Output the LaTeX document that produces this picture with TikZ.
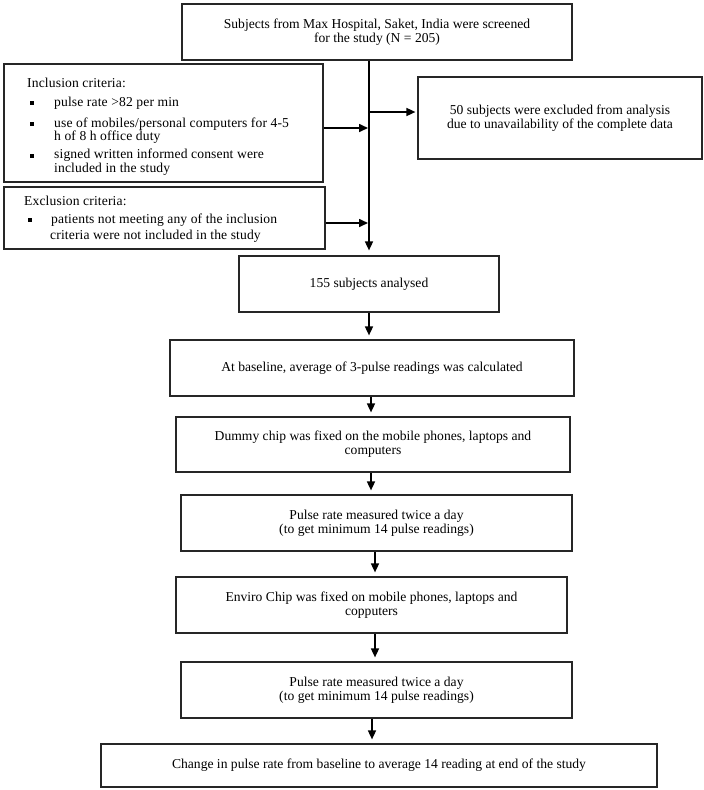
\documentclass[tikz,border=0pt]{standalone}
\usepackage{fontspec}
\setmainfont{Liberation Serif}
\newfontfamily\critfont[LetterSpace=1.0]{Liberation Serif}
\usetikzlibrary{arrows.meta}
\begin{document}
\begin{tikzpicture}[x=1pt,y=-1pt,
  box/.style={draw=black!85, line width=1.2pt, align=center, inner sep=0pt, font=\fontsize{13.6}{14}\selectfont},
  txt/.style={anchor=west, inner sep=0pt, align=left, font=\critfont\fontsize{13.6}{13}\selectfont},
  sq/.style={fill=black, inner sep=0pt, minimum size=3.5pt},
  arr/.style={line width=1.6pt, -{Triangle[length=9pt,width=8pt]}},
]
\useasboundingbox[fill=white] (0,0) rectangle (704,790);

\node[box, minimum width=390pt, minimum height=56pt] (top) at (377,32) {Subjects from Max Hospital, Saket, India were screened\\for the study (N = 205)};
\node[box, minimum width=319pt, minimum height=118pt] (incl) at (163.5,123) {};
\node[box, minimum width=321pt, minimum height=62pt] (excl) at (164.5,218) {};
\node[box, minimum width=284pt, minimum height=82pt] (rbox) at (560,118) {50 subjects were excluded from analysis\\due to unavailability of the complete data};
\node[box, minimum width=260pt, minimum height=56pt] (b155) at (369,284) {155 subjects analysed};
\node[box, minimum width=404pt, minimum height=56pt] (base) at (372,368) {At baseline, average of 3-pulse readings was calculated};
\node[box, minimum width=394pt, minimum height=55pt] (dummy) at (373,444.5) {Dummy chip was fixed on the mobile phones, laptops and\\computers};
\node[box, minimum width=391pt, minimum height=56pt] (pulse1) at (376.5,523) {Pulse rate measured twice a day\\(to get minimum 14 pulse readings)};
\node[box, minimum width=391pt, minimum height=56pt] (enviro) at (371.5,605) {Enviro Chip was fixed on mobile phones, laptops and\\copputers};
\node[box, minimum width=391pt, minimum height=56pt] (pulse2) at (376.5,690) {Pulse rate measured twice a day\\(to get minimum 14 pulse readings)};
\node[box, minimum width=556pt, minimum height=43pt] (final) at (379,765.5) {Change in pulse rate from baseline to average 14 reading at end of the study};

% inclusion criteria text
\node[txt] (inh) at (27,83) {Inclusion criteria:};
\node[sq] (ib1) at (32,103) {};
\node[txt] (i1) at (54,103) {pulse rate >82 per min};
\node[sq] (ib2) at (32,124) {};
\node[txt] (i2) at (54,130.5) {use of mobiles/personal computers for 4-5\\h of 8 h office duty};
\node[sq] (ib3) at (32,156) {};
\node[txt, font=\critfont\fontsize{13.6}{12}\selectfont] (i3) at (54,162) {signed written informed consent were\\included in the study};

% exclusion criteria text
\node[txt] (exh) at (24,201) {Exclusion criteria:};
\node[sq] (eb1) at (30,220) {};
\node[txt, font=\critfont\fontsize{13.6}{16}\selectfont] (e1) at (50,228) {\hspace*{1pt}patients not meeting any of the inclusion\\criteria were not included in the study};

% spine and side arrows
\draw[arr, shorten >=5pt] (top.south -| b155.north) -- (b155.north);
\draw[arr, shorten >=1pt] ([yshift=-5pt]incl.east) -- ([yshift=-5pt]incl.east -| b155.north);
\draw[arr, shorten >=2pt] ([yshift=6pt]rbox.west -| b155.north) -- ([yshift=6pt]rbox.west);
\draw[arr, shorten >=1pt] ([yshift=-5pt]excl.east) -- ([yshift=-5pt]excl.east -| b155.north);

% down arrows
\draw[arr, shorten >=4pt] (b155.south) -- (b155.south |- base.north);
\draw[arr, shorten >=4pt] ([xshift=-1pt]base.south) -- ([xshift=-1pt]base.south |- dummy.north);
\draw[arr, shorten >=4pt] ([xshift=-2pt]dummy.south) -- ([xshift=-2pt]dummy.south |- pulse1.north);
\draw[arr, shorten >=4pt] ([xshift=-1.5pt]pulse1.south) -- ([xshift=-1.5pt]pulse1.south |- enviro.north);
\draw[arr, shorten >=4pt] ([xshift=3.5pt]enviro.south) -- ([xshift=3.5pt]enviro.south |- pulse2.north);
\draw[arr, shorten >=4pt] ([xshift=-4.5pt]pulse2.south) -- ([xshift=-4.5pt]pulse2.south |- final.north);
\end{tikzpicture}
\end{document}
